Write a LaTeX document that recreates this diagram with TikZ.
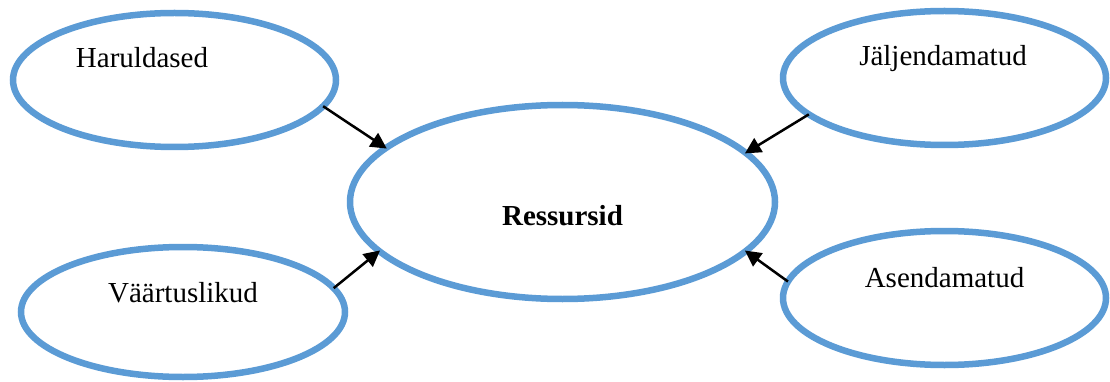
\documentclass[tikz,border=0pt]{standalone}
\usepackage{fontspec}
\setmainfont{Liberation Serif}
\usetikzlibrary{shapes.geometric,arrows.meta}
\definecolor{ringblue}{HTML}{5B9BD5}
\tikzset{
  ring/.style={ellipse, draw=ringblue, line width=6.5pt, fill=white, inner sep=0pt, outer sep=0pt},
  smallring/.style={ring, minimum width=323pt, minimum height=134pt},
  caption/.style={anchor=base, inner sep=0pt, font=\fontsize{29}{35}\selectfont},
  link/.style={line width=2.5pt, -{Triangle[length=16pt,width=16pt]}, shorten >=-1pt}
}
\begin{document}
\begin{tikzpicture}[x=1pt,y=-1pt]
  \useasboundingbox (0,0) rectangle (1110,382);

  % outer ellipses
  \node[smallring] (har) at (174.5,80) {};
  \node[smallring, minimum height=130pt, minimum width=324pt] (vaa) at (183,312) {};
  \node[smallring] (jal) at (944.5,78) {};
  \node[smallring] (ase) at (944.5,298) {};

  % central ellipse
  \node[ring, minimum width=425pt, minimum height=194pt] (res) at (562.5,202) {};

  % labels
  \node[caption] (tharl) at (142,68) {Haruldased};
  \node[caption] (tvaa) at (183,302) {Väärtuslikud};
  \node[caption] (tjal) at (943,66) {Jäljendamatud};
  \node[caption] (tase) at (944.5,287) {Asendamatud};
  \node[caption, font=\fontsize{29}{35}\selectfont\bfseries] (tres) at (562.5,225) {Ressursid};

  % arrows towards the centre
  \draw[link] (har.-10) -- (res.163);
  \draw[link] (vaa.9) -- (res.195);
  \draw[link] (jal.195) -- (res.15.6);
  \draw[link] (ase.174) -- (res.-15.6);
\end{tikzpicture}
\end{document}
